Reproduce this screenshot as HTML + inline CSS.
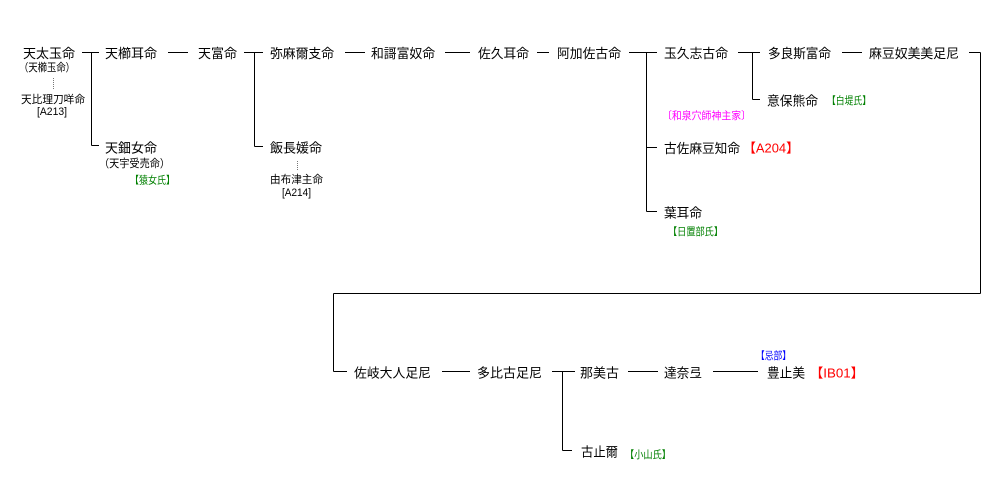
<!DOCTYPE html>
<html>
<head>
<meta charset="utf-8">
<style>
html,body{margin:0;padding:0;background:#fff;}
svg{display:block;}
text{font-family:"Liberation Sans","Noto Sans CJK JP",sans-serif;dominant-baseline:central;}
.m{font-size:13px;fill:#000;}
.s{font-size:11px;fill:#000;}
.g{font-size:10.5px;fill:#008000;}
.p{font-size:10.5px;fill:#ff00ff;}
.b{font-size:10.5px;fill:#0000ff;}
.r{font-size:13px;fill:#ff0000;}
</style>
</head>
<body>
<svg width="989" height="488" viewBox="0 0 989 488" xmlns="http://www.w3.org/2000/svg">
<g stroke="#000" stroke-width="1" fill="none" shape-rendering="crispEdges">
  <line x1="82" y1="52.5" x2="99" y2="52.5"/>
  <line x1="91.5" y1="52.5" x2="91.5" y2="145.5"/>
  <line x1="91.5" y1="145.5" x2="99" y2="145.5"/>
  <line x1="168" y1="52.5" x2="188" y2="52.5"/>
  <line x1="244" y1="52.5" x2="263" y2="52.5"/>
  <line x1="254.5" y1="52.5" x2="254.5" y2="146.5"/>
  <line x1="254.5" y1="146.5" x2="263" y2="146.5"/>
  <line x1="345" y1="52.5" x2="365" y2="52.5"/>
  <line x1="445" y1="52.5" x2="470" y2="52.5"/>
  <line x1="537" y1="52.5" x2="549" y2="52.5"/>
  <line x1="629" y1="52.5" x2="657" y2="52.5"/>
  <line x1="646.5" y1="52.5" x2="646.5" y2="211.5"/>
  <line x1="646.5" y1="147.5" x2="657" y2="147.5"/>
  <line x1="646.5" y1="211.5" x2="657" y2="211.5"/>
  <line x1="738" y1="52.5" x2="760" y2="52.5"/>
  <line x1="752.5" y1="52.5" x2="752.5" y2="99.5"/>
  <line x1="752.5" y1="99.5" x2="760" y2="99.5"/>
  <line x1="842" y1="52.5" x2="862" y2="52.5"/>
  <line x1="969" y1="52.5" x2="980.5" y2="52.5"/>
  <line x1="980.5" y1="52.5" x2="980.5" y2="293.5"/>
  <line x1="333.5" y1="293.5" x2="980.5" y2="293.5"/>
  <line x1="333.5" y1="293.5" x2="333.5" y2="371.5"/>
  <line x1="333.5" y1="371.5" x2="347" y2="371.5"/>
  <line x1="442" y1="371.5" x2="470" y2="371.5"/>
  <line x1="552" y1="371.5" x2="575" y2="371.5"/>
  <line x1="562.5" y1="371.5" x2="562.5" y2="450.5"/>
  <line x1="562.5" y1="450.5" x2="572" y2="450.5"/>
  <line x1="628" y1="371.5" x2="658" y2="371.5"/>
  <line x1="713" y1="371.5" x2="758" y2="371.5"/>
</g>
<g stroke="#777" stroke-width="1" stroke-dasharray="1,1" shape-rendering="crispEdges">
  <line x1="53.5" y1="78" x2="53.5" y2="89"/>
  <line x1="297.5" y1="161" x2="297.5" y2="171"/>
</g>

<text class="m" x="23" y="53.5" textLength="52" lengthAdjust="spacingAndGlyphs">天太玉命</text>
<text class="m" x="105" y="53.5" textLength="52" lengthAdjust="spacingAndGlyphs">天櫛耳命</text>
<text class="m" x="198" y="53.5" textLength="39" lengthAdjust="spacingAndGlyphs">天富命</text>
<text class="m" x="270" y="53.5" textLength="64" lengthAdjust="spacingAndGlyphs">弥麻爾支命</text>
<text class="m" x="371" y="53.5" textLength="64" lengthAdjust="spacingAndGlyphs">和謌富奴命</text>
<text class="m" x="478" y="53.5" textLength="51" lengthAdjust="spacingAndGlyphs">佐久耳命</text>
<text class="m" x="557" y="53.5" textLength="64" lengthAdjust="spacingAndGlyphs">阿加佐古命</text>
<text class="m" x="664" y="53.5" textLength="64" lengthAdjust="spacingAndGlyphs">玉久志古命</text>
<text class="m" x="768" y="53.5" textLength="63" lengthAdjust="spacingAndGlyphs">多良斯富命</text>
<text class="m" x="869" y="53.5" textLength="90" lengthAdjust="spacingAndGlyphs">麻豆奴美美足尼</text>

<text class="s" x="19" y="68" textLength="56" lengthAdjust="spacingAndGlyphs">（天櫛玉命）</text>
<text class="s" x="21" y="100" textLength="64" lengthAdjust="spacingAndGlyphs">天比理刀咩命</text>
<text class="s" x="37" y="112" textLength="30" lengthAdjust="spacingAndGlyphs">[A213]</text>

<text class="m" x="105" y="148" textLength="52" lengthAdjust="spacingAndGlyphs">天鈿女命</text>
<text class="s" x="99" y="164" textLength="71" lengthAdjust="spacingAndGlyphs">（天宇受売命）</text>
<text class="g" x="130" y="180.5" textLength="45" lengthAdjust="spacingAndGlyphs">【猿女氏】</text>

<text class="m" x="270" y="148" textLength="52" lengthAdjust="spacingAndGlyphs">飯長媛命</text>
<text class="s" x="270" y="180" textLength="53" lengthAdjust="spacingAndGlyphs">由布津主命</text>
<text class="s" x="282" y="193" textLength="29" lengthAdjust="spacingAndGlyphs">[A214]</text>

<text class="m" x="767" y="101" textLength="51" lengthAdjust="spacingAndGlyphs">意保熊命</text>
<text class="g" x="827" y="101" textLength="44" lengthAdjust="spacingAndGlyphs">【白堤氏】</text>
<text class="p" x="662" y="116" textLength="89" lengthAdjust="spacingAndGlyphs">〔和泉穴師神主家〕</text>

<text class="m" x="664" y="148.5" textLength="76" lengthAdjust="spacingAndGlyphs">古佐麻豆知命</text>
<text class="r" x="743" y="148" textLength="56" lengthAdjust="spacingAndGlyphs">【A204】</text>

<text class="m" x="664" y="213" textLength="38" lengthAdjust="spacingAndGlyphs">葉耳命</text>
<text class="g" x="668" y="232" textLength="55" lengthAdjust="spacingAndGlyphs">【日置部氏】</text>

<text class="m" x="354" y="373" textLength="77" lengthAdjust="spacingAndGlyphs">佐岐大人足尼</text>
<text class="m" x="477" y="373" textLength="65" lengthAdjust="spacingAndGlyphs">多比古足尼</text>
<text class="m" x="580" y="373" textLength="39" lengthAdjust="spacingAndGlyphs">那美古</text>
<text class="m" x="664" y="373" textLength="38" lengthAdjust="spacingAndGlyphs">達奈弖</text>
<text class="m" x="767" y="373" textLength="38" lengthAdjust="spacingAndGlyphs">豊止美</text>
<text class="b" x="756" y="356" textLength="35" lengthAdjust="spacingAndGlyphs">【忌部】</text>
<text class="r" x="810" y="373" textLength="54" lengthAdjust="spacingAndGlyphs">【IB01】</text>

<text class="m" x="581" y="452" textLength="37" lengthAdjust="spacingAndGlyphs">古止爾</text>
<text class="g" x="625" y="455" textLength="46" lengthAdjust="spacingAndGlyphs">【小山氏】</text>
</svg>
</body>
</html>
